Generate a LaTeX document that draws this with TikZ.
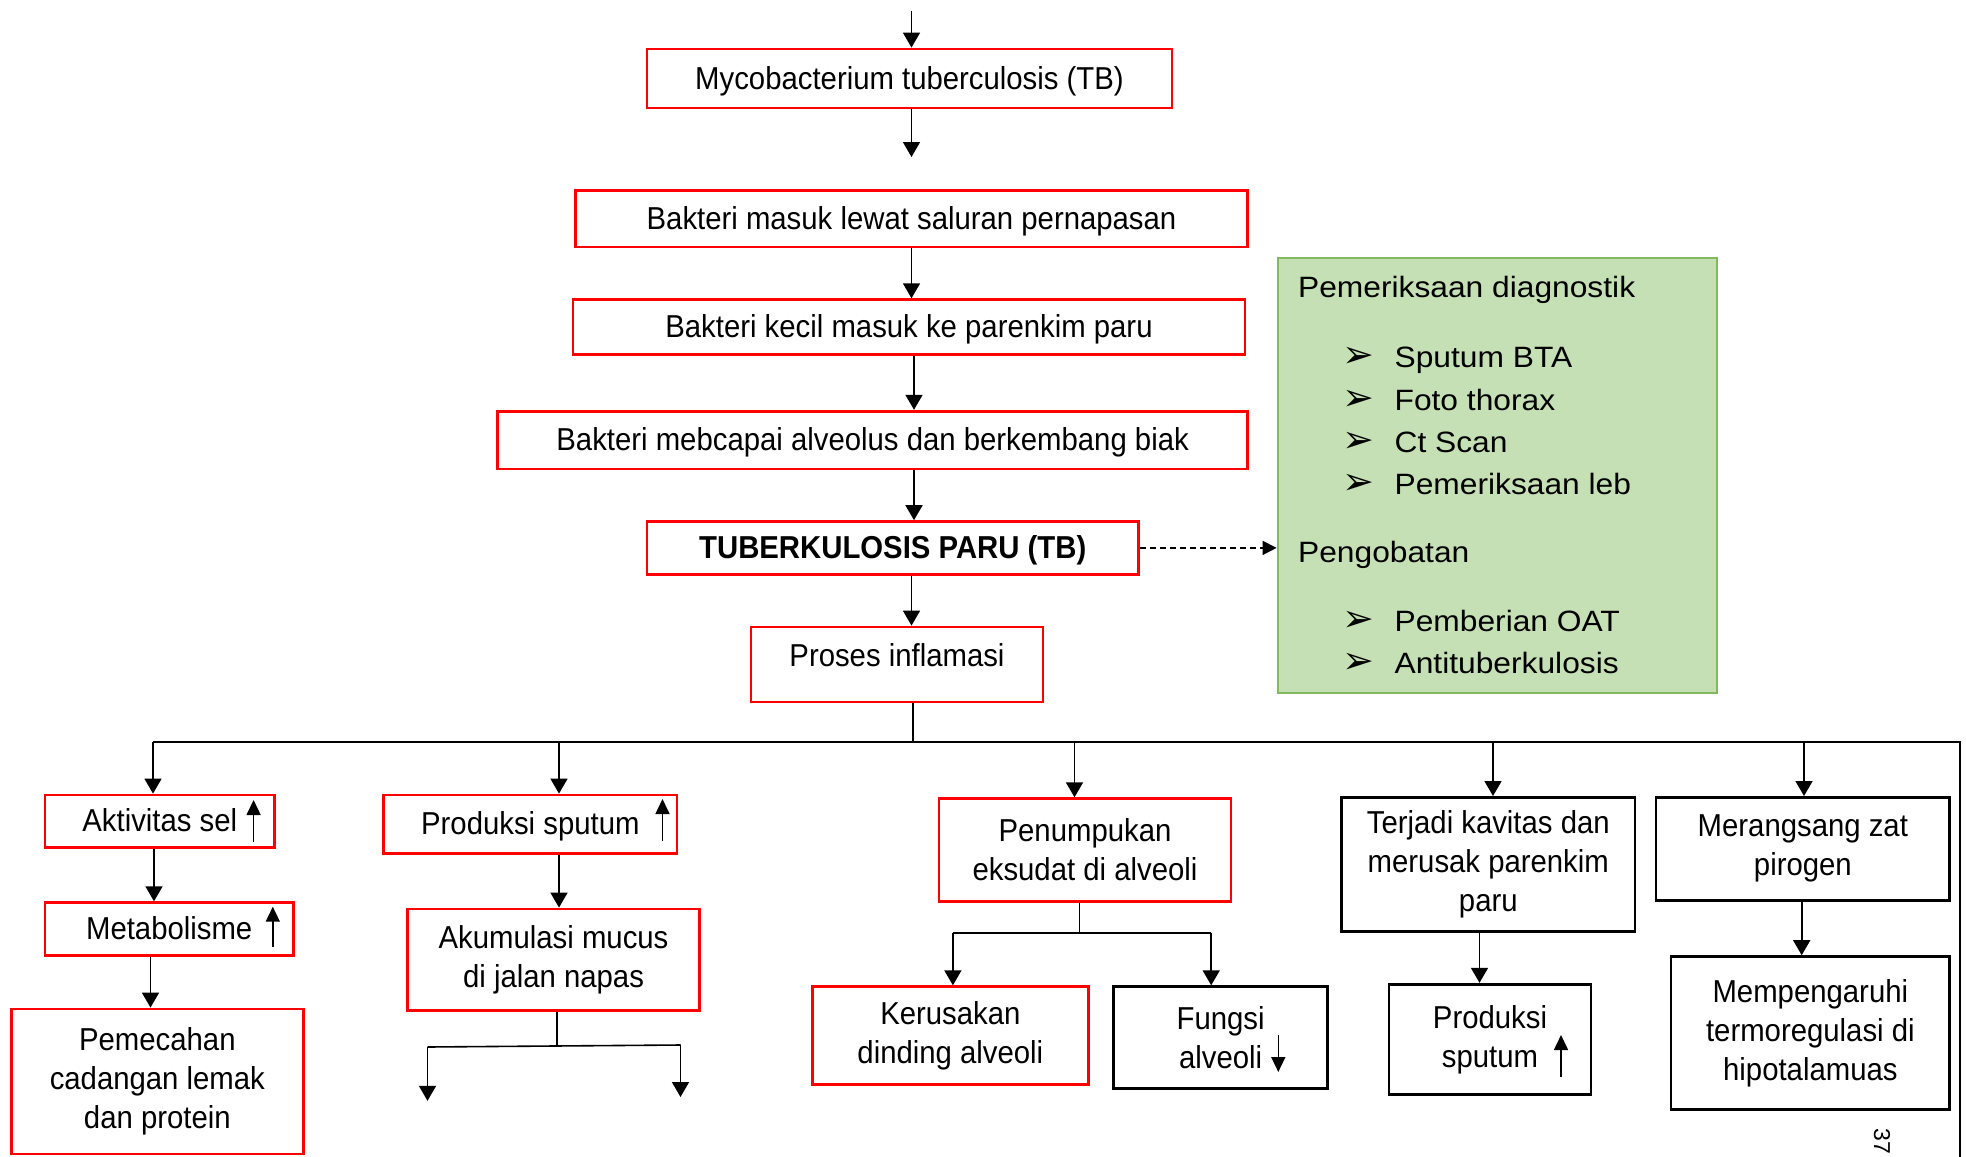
\documentclass[tikz,border=0pt]{standalone}
\usepackage{fontspec}
\setmainfont{Liberation Sans}
\newfontfamily\boxfont[FakeStretch=0.925]{Liberation Sans}
\newfontfamily\notefont[FakeStretch=1.08]{Liberation Sans}
\newfontfamily\symfont{DejaVu Sans}
\usetikzlibrary{arrows.meta}
\definecolor{boxred}{RGB}{255,0,0}
\definecolor{notefill}{RGB}{197,224,180}
\definecolor{noteline}{RGB}{130,185,95}
\begin{document}
\begin{tikzpicture}[x=0.5pt,y=-0.5pt,
  span/.style n args={4}{at={({(#1+#3)/2},{(#2+#4)/2})},
    minimum width={(#3-#1)*0.5pt},minimum height={(#4-#2)*0.5pt}},
  conn/.style={line width=0.8pt,draw=black},
  arr/.style={conn,-{Triangle[length=7.5pt,width=8.5pt]}},
  marker/.style={line width=0.8pt,-{Triangle[length=7.5pt,width=7pt]}},
  redbox/.style={draw=boxred,line width=1.4pt,inner sep=0pt,align=center,
    font=\boxfont\fontsize{15.85}{19.45}\selectfont},
  blackbox/.style={redbox,draw=black},
  oneline/.style={text height=11.5pt,text depth=1pt},
  notebox/.style={draw=noteline,fill=notefill,line width=1pt,inner sep=0pt},
  note/.style={inner sep=0pt,font=\notefont\fontsize{14.7}{17}\selectfont},
  bul/.style={inner sep=0pt,font=\symfont\fontsize{19}{20}\selectfont}]
\useasboundingbox (0,0) rectangle (1966,1157);

% main chain
\node[redbox,oneline,span={647}{49}{1172}{108}] (myco) {Mycobacterium tuberculosis (TB)};
\node[redbox,oneline,span={575.5}{190.6}{1247.5}{247}] (masuk) {Bakteri masuk lewat saluran pernapasan};
\node[redbox,oneline,span={573}{299.7}{1245}{354.8}] (kecil) {Bakteri kecil masuk ke parenkim paru};
\node[redbox,oneline,span={497.8}{411.2}{1247.5}{469}] (capai) {Bakteri mebcapai alveolus dan berkembang biak};
\node[redbox,oneline,span={647}{521.6}{1138.5}{574.2}] (tbp) {\bfseries TUBERKULOSIS PARU (TB)};
\node[redbox,span={751}{627}{1043}{702},text height=11pt,text depth=9.5pt] (proses) {Proses inflamasi};

% diagnostics and treatment
\node[notebox,span={1277.6}{258.3}{1716.5}{693}] (green) {};
\node[note,anchor=base west] (g0) at (1297.7,297) {Pemeriksaan diagnostik};
\node[bul,anchor=base] (k1) at (1358,367.5) {➢};
\node[note,anchor=base west] (g1) at (1394.2,367.5) {Sputum BTA};
\node[bul,anchor=base] (k2) at (1358,410) {➢};
\node[note,anchor=base west] (g2) at (1394.2,410) {Foto thorax};
\node[bul,anchor=base] (k3) at (1358,452.5) {➢};
\node[note,anchor=base west] (g3) at (1394.2,452.5) {Ct Scan};
\node[bul,anchor=base] (k4) at (1358,494.5) {➢};
\node[note,anchor=base west] (g4) at (1394.2,494.5) {Pemeriksaan leb};
\node[note,anchor=base west] (g5) at (1297.7,562.7) {Pengobatan};
\node[bul,anchor=base] (k6) at (1358,631.5) {➢};
\node[note,anchor=base west] (g6) at (1394.2,631.5) {Pemberian OAT};
\node[bul,anchor=base] (k7) at (1358,673.5) {➢};
\node[note,anchor=base west] (g7) at (1394.2,673.5) {Antituberkulosis};

% effects
\node[redbox,oneline,span={45}{795}{274.6}{847.6}] (aktiv) {Aktivitas sel};
\node[redbox,oneline,span={45}{902.7}{293.4}{955.4}] (metab) {Metabolisme};
\node[redbox,span={11.3}{1009}{303.4}{1154}] (pemec) {Pemecahan\\cadangan lemak\\dan protein};
\node[redbox,oneline,span={383.7}{795}{677}{853.8}] (sput1) {Produksi sputum};
\node[redbox,span={407.5}{909}{699.6}{1010.6}] (akum) {Akumulasi mucus\\di jalan napas};
\node[redbox,span={939}{798.7}{1231}{901.5}] (tumpuk) {Penumpukan\\eksudat di alveoli};
\node[redbox,span={812.5}{986.7}{1088.3}{1084.5}] (rusak) {Kerusakan\\dinding alveoli};
\node[blackbox,span={1113.4}{986.7}{1327.8}{1088.3}] (fungsi) {Fungsi\\alveoli};
\node[blackbox,span={1341.6}{797.4}{1635}{931.6}] (kavitas) {Terjadi kavitas dan\\merusak parenkim\\paru};
\node[blackbox,span={1389}{984.2}{1591}{1094.6}] (sput2) {Produksi\\sputum};
\node[blackbox,span={1656}{797.4}{1949.7}{900.2}] (pirogen) {Merangsang zat\\pirogen};
\node[blackbox,span={1671}{956.6}{1949.7}{1109.6}] (termo) {Mempengaruhi\\termoregulasi di\\hipotalamuas};

% up and down marks beside the texts
\draw[marker] (253.6,842) -- (253.6,800);
\draw[marker] (272.8,947) -- (272.8,906.7);
\draw[marker] (662.5,840.7) -- (662.5,799);
\draw[marker] (1278.3,1035) -- (1278.3,1072);
\draw[marker] (1561,1076.7) -- (1561,1035);

% guide coordinates
\coordinate (top) at (911.5,11);
\coordinate (gap) at (911.5,157);
\coordinate (vT) at (911.5,0);
\coordinate (vT2) at (914,0);
\coordinate (busM) at (912.8,742);
\coordinate (busL) at (153,742);
\coordinate (busR) at (1960,742);
\coordinate (pageR) at (1960,1157);
\coordinate (d2) at (559,742);
\coordinate (d3) at (1074.5,742);
\coordinate (d4) at (1493,742);
\coordinate (d5) at (1804,742);
\coordinate (vA) at (154,0);
\coordinate (vM) at (150.5,0);
\coordinate (vK) at (1479.5,0);
\coordinate (vP) at (1801.7,0);
\coordinate (ak) at (556.7,1045.5);
\coordinate (akL) at (427.5,1047);
\coordinate (akR) at (680.5,1045);
\coordinate (akLt) at (427.5,1100.8);
\coordinate (akRt) at (680.5,1097);
\coordinate (tp) at (1079.5,932.8);
\coordinate (tpL) at (952.9,932.8);
\coordinate (tpR) at (1211.2,932.8);

% connectors of the main chain
\draw[arr] (top) -- (myco.north -| top);
\draw[arr] (myco.south -| vT) -- (gap);
\draw[arr] (masuk.south -| vT) -- (kecil.north -| vT);
\draw[arr] (kecil.south -| vT2) -- (capai.north -| vT2);
\draw[arr] (capai.south -| vT2) -- (tbp.north -| vT2);
\draw[arr] (tbp.south -| vT) -- (proses.north -| vT);
\draw[conn,dash pattern=on 3pt off 2pt,-{Triangle[length=7pt,width=7pt]}] (tbp.east) -- (green.west |- tbp.east);

% distribution bus
\draw[conn] (proses.south -| busM) -- (busM);
\draw[conn] (busL) -- (busR) -- (pageR);
\draw[arr] (busL) -- (aktiv.north -| busL);
\draw[arr] (d2) -- (sput1.north -| d2);
\draw[arr] (d3) -- (tumpuk.north -| d3);
\draw[arr] (d4) -- (kavitas.north -| d4);
\draw[arr] (d5) -- (pirogen.north -| d5);

% branches
\draw[arr] (aktiv.south -| vA) -- (metab.north -| vA);
\draw[arr] (metab.south -| vM) -- (pemec.north -| vM);
\draw[arr] (sput1.south -| d2) -- (akum.north -| d2);
\draw[conn] (akum.south -| ak) -- (ak);
\draw[conn] (akL) -- (akR);
\draw[arr] (akL) -- (akLt);
\draw[arr] (akR) -- (akRt);
\draw[conn] (tumpuk.south -| tp) -- (tp);
\draw[conn] (tpL) -- (tpR);
\draw[arr] (tpL) -- (rusak.north -| tpL);
\draw[arr] (tpR) -- (fungsi.north -| tpR);
\draw[arr] (kavitas.south -| vK) -- (sput2.north -| vK);
\draw[arr] (pirogen.south -| vP) -- (termo.north -| vP);

% page number
\node[inner sep=0pt,rotate=-90,font=\fontsize{11.5}{13}\selectfont] (pg) at (1882,1141) {37};
\end{tikzpicture}
\end{document}
